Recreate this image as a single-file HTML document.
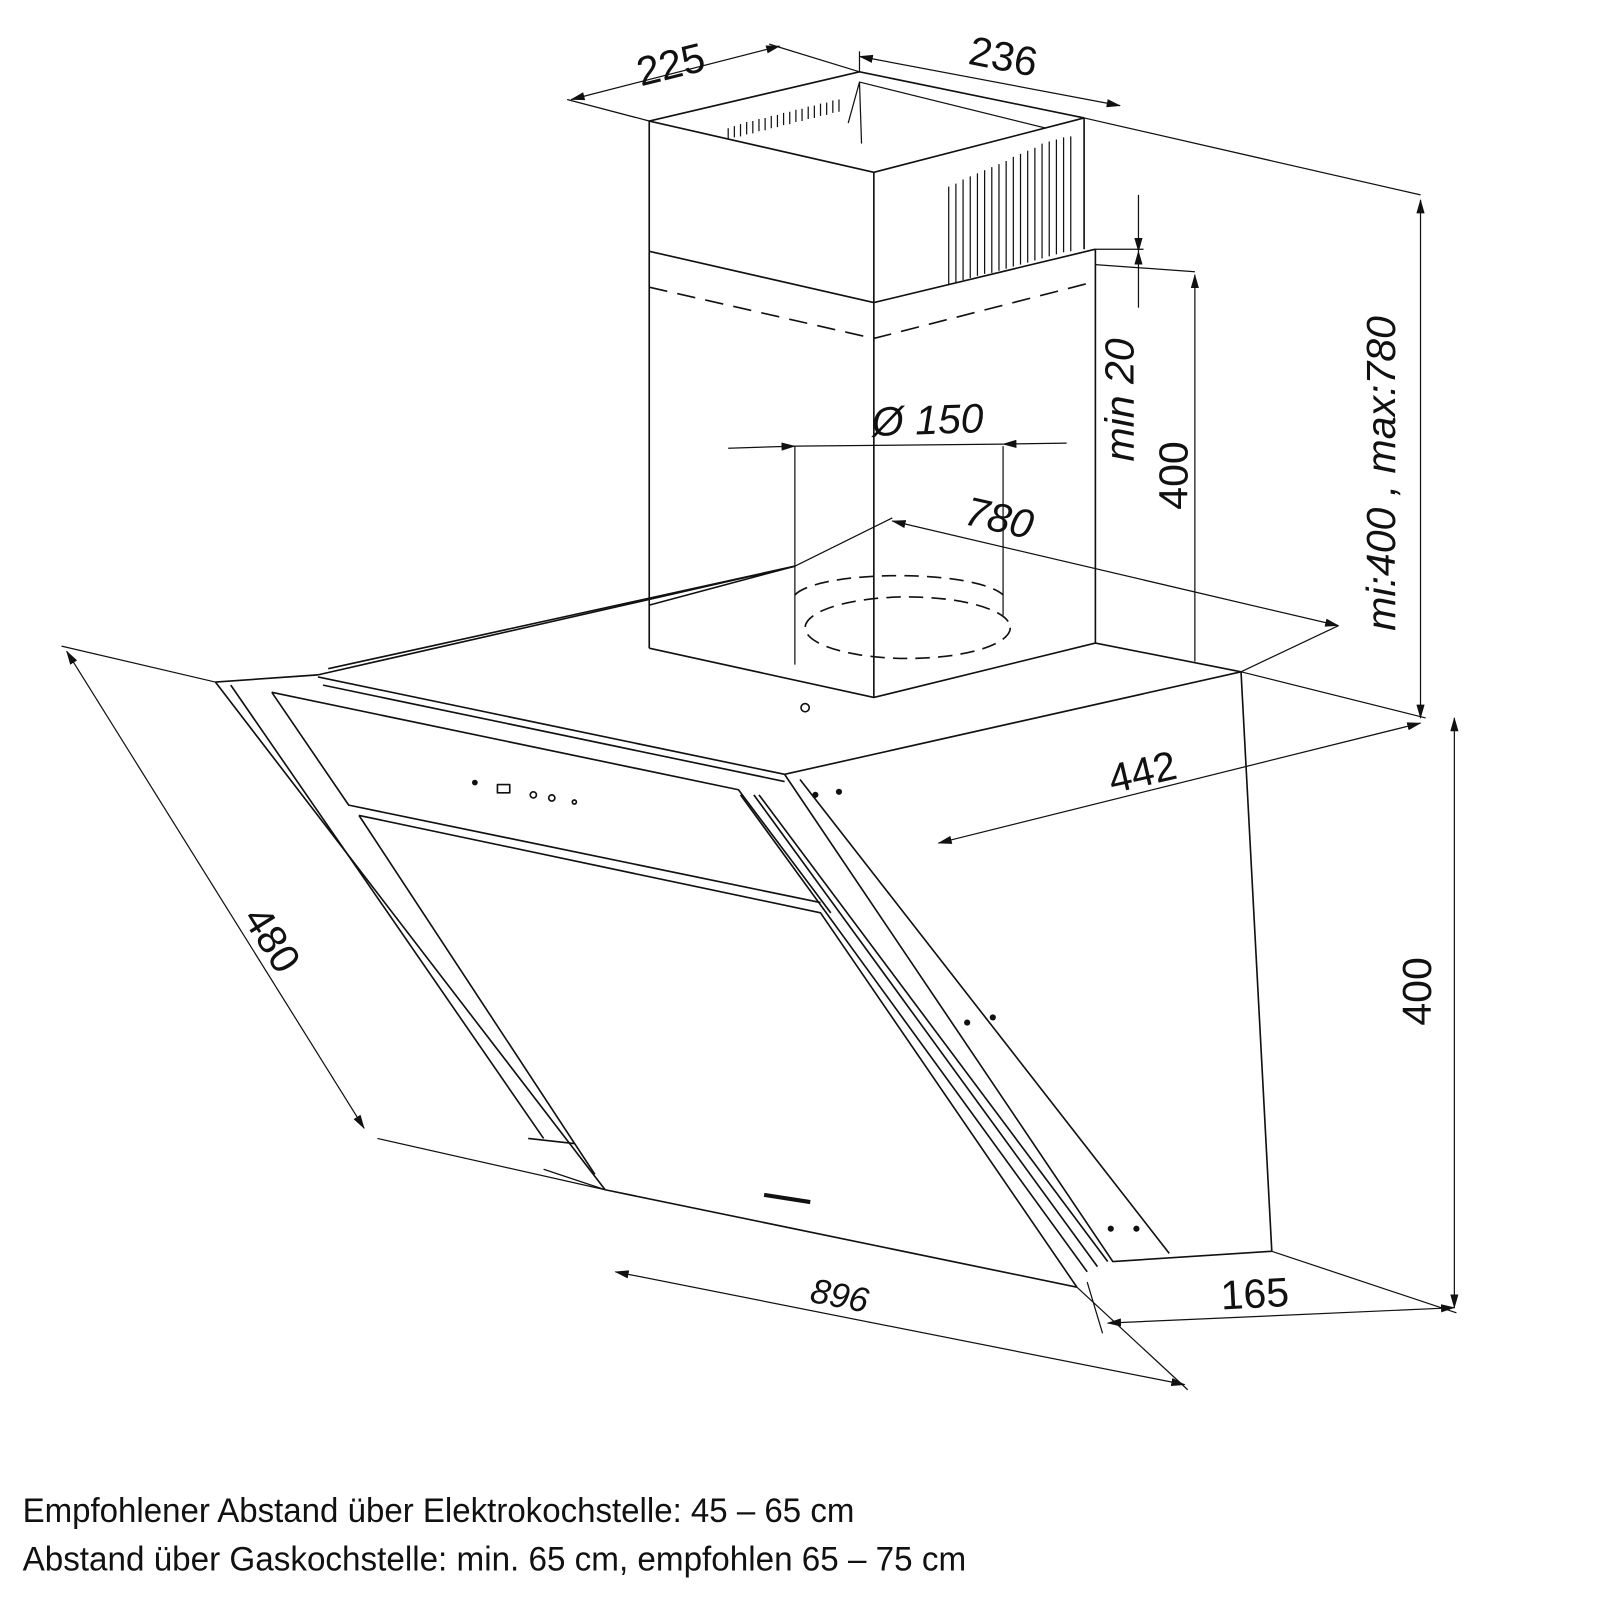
<!DOCTYPE html>
<html><head><meta charset="utf-8"><style>
html,body{margin:0;padding:0;background:#fff;}
svg{display:block;}
text{font-family:"Liberation Sans",sans-serif;fill:#111;}
</style></head><body>
<svg width="1600" height="1600" viewBox="0 0 1560 1560" xmlns="http://www.w3.org/2000/svg">
<defs>
<marker id="a" markerWidth="14" markerHeight="8" refX="13" refY="4" orient="auto" markerUnits="userSpaceOnUse"><path d="M0,0 L14,4 L0,8 z" fill="#111"/></marker>
<marker id="b" markerWidth="14" markerHeight="8" refX="1" refY="4" orient="auto" markerUnits="userSpaceOnUse"><path d="M14,0 L0,4 L14,8 z" fill="#111"/></marker>
</defs>
<g stroke="#111" stroke-width="1.6" fill="none" stroke-linejoin="round">
<polyline points="633,245 633,118 852,168 1057,115"/>
<polyline points="633,118 838,70 1057,115"/>
<line x1="852" y1="168" x2="852" y2="680"/>
<line x1="1057" y1="115" x2="1057" y2="243"/>
<polyline points="633,245 852,295 1068,243"/>
<line x1="633" y1="245" x2="633" y2="632"/>
<line x1="1068" y1="243" x2="1068" y2="627"/>
<polyline points="633,280 852,330 1062,276" stroke-dasharray="18,10"/>
<g stroke-width="1.2">
<path d="M710,135v-10M716,134v-11M722,133v-12M728,131v-12M734,130v-12M740,128v-12M746,127v-12M752,125v-12M758,124v-12M764,122v-12M770,121v-12M776,119v-12M782,118v-12M788,116v-12M794,115v-12M800,113v-12M806,112v-12M812,110v-12M818,109v-12"/>
<path d="M925,277v-95M932,275v-96M939,273v-98M946,271v-99M953,269v-100M960,267v-101M967,266v-103M974,264v-104M981,262v-105M988,260v-107M995,258v-108M1002,256v-109M1009,254v-110M1016,252v-112M1023,250v-112M1030,248v-112M1037,246v-112M1044,245v-112"/>
<path d="M827,120 L838,80 L840,140 M838,80 L1020,125"/>
</g>
<line x1="775" y1="435" x2="775" y2="648" stroke-width="1.2"/>
<line x1="978" y1="435" x2="978" y2="600" stroke-width="1.2"/>
<ellipse cx="885" cy="612" rx="100" ry="30" stroke-dasharray="14,8"/>
<path d="M775,580 C800,555 950,555 978,580" stroke-dasharray="14,8"/>
<polyline points="310,658 775,552 633,590"/>
<line x1="320" y1="652" x2="775" y2="552"/>
<polyline points="633,632 852,680 1068,627 1210,655"/>
<polyline points="310,660 765,755 1210,655"/>
<line x1="315" y1="668" x2="765" y2="762"/>
<circle cx="785" cy="690" r="4"/>
<line x1="1210" y1="655" x2="1240" y2="1220"/>
<polyline points="765,755 1085,1230 1240,1220"/>
<polyline points="780,760 1140,1222"/>
<line x1="740" y1="775" x2="1080" y2="1230"/>
<polyline points="210,665 310,658"/>
<polyline points="210,665 590,1160 1050,1255"/>
<line x1="225" y1="668" x2="530" y2="1110"/>
<line x1="515" y1="1110" x2="560" y2="1115"/>
<polyline points="265,675 720,770 810,890"/>
<polyline points="265,675 340,785 800,880"/>
<polyline points="350,795 800,890 1050,1255"/>
<line x1="350" y1="795" x2="580" y2="1145"/>
<line x1="722" y1="775" x2="1060" y2="1240"/>
<line x1="735" y1="775" x2="1070" y2="1235"/>
<path d="M745,1165 L790,1172" stroke-width="4"/>
<circle cx="463" cy="763" r="2" fill="#111"/><rect x="485" y="765" width="12" height="8"/><circle cx="520" cy="775" r="3"/><circle cx="538" cy="778" r="3"/><circle cx="560" cy="782" r="2"/>
<g fill="#111" stroke="none"><circle cx="795" cy="775" r="3"/><circle cx="818" cy="772" r="3"/><circle cx="943" cy="997" r="3"/><circle cx="968" cy="992" r="3"/><circle cx="1083" cy="1198" r="3"/><circle cx="1108" cy="1198" r="3"/></g>
<g stroke-width="1.2">
<line x1="557" y1="97" x2="760" y2="45" marker-start="url(#b)" marker-end="url(#a)"/>
<line x1="633" y1="118" x2="553" y2="97"/><line x1="838" y1="70" x2="750" y2="43"/>
<line x1="838" y1="55" x2="1092" y2="103" marker-start="url(#b)" marker-end="url(#a)"/>
<line x1="838" y1="70" x2="838" y2="50"/>
<line x1="1057" y1="115" x2="1385" y2="190"/>
<line x1="1385" y1="195" x2="1385" y2="700" marker-start="url(#b)" marker-end="url(#a)"/>
<line x1="1210" y1="655" x2="1390" y2="700"/>
<line x1="1418" y1="700" x2="1418" y2="1275" marker-start="url(#b)" marker-end="url(#a)"/>
<line x1="1240" y1="1220" x2="1420" y2="1280"/>
<line x1="915" y1="822" x2="1385" y2="705" marker-start="url(#b)" marker-end="url(#a)"/>
<line x1="1080" y1="1290" x2="1418" y2="1275" marker-start="url(#b)" marker-end="url(#a)"/>
<line x1="1060" y1="1250" x2="1075" y2="1300"/>
<line x1="600" y1="1240" x2="1155" y2="1350" marker-start="url(#b)" marker-end="url(#a)"/>
<line x1="1050" y1="1255" x2="1158" y2="1355"/>
<line x1="590" y1="1160" x2="530" y2="1140"/>
<line x1="65" y1="635" x2="355" y2="1100" marker-start="url(#b)" marker-end="url(#a)"/>
<line x1="60" y1="630" x2="210" y2="665"/><line x1="368" y1="1110" x2="590" y2="1160"/>
<line x1="870" y1="508" x2="1305" y2="610" marker-start="url(#b)" marker-end="url(#a)"/>
<line x1="775" y1="552" x2="870" y2="505"/><line x1="1210" y1="655" x2="1305" y2="610"/>
<line x1="1110" y1="190" x2="1110" y2="245" marker-end="url(#a)"/>
<line x1="1110" y1="300" x2="1110" y2="245" marker-end="url(#a)"/>
<line x1="1068" y1="243" x2="1115" y2="243"/>
<line x1="1068" y1="258" x2="1165" y2="265"/>
<line x1="1165" y1="645" x2="1165" y2="268" marker-end="url(#a)"/>
<line x1="710" y1="437" x2="775" y2="435" marker-end="url(#a)"/>
<line x1="775" y1="435" x2="978" y2="433"/>
<line x1="1040" y1="432" x2="978" y2="433" marker-end="url(#a)"/>
</g>
</g>
<g font-size="40">
<text x="620" y="75" transform="rotate(-14 660 60)">225</text>
<text x="945" y="70" transform="rotate(11 985 55)">236</text>
<text x="850" y="423" transform="rotate(-2 910 410)" font-style="italic">Ø 150</text>
<text x="940" y="520" transform="rotate(13 980 510)" font-style="italic">780</text>
<text x="0" y="0" transform="translate(1105,450) rotate(-90)" font-style="italic">min 20</text>
<text x="0" y="0" transform="translate(1158,497) rotate(-90)">400</text>
<text x="0" y="0" transform="translate(1360,615) rotate(-90)" font-style="italic">mi:400 , max:780</text>
<text x="1080" y="765" transform="rotate(-13 1120 750)">442</text>
<text x="0" y="0" transform="translate(1395,1000) rotate(-90)">400</text>
<text x="1190" y="1275" transform="rotate(-3 1225 1260)">165</text>
<text x="790" y="1275" font-size="34" transform="rotate(11 820 1265)" font-style="italic">896</text>
<text x="0" y="0" transform="translate(236,895) rotate(58)">480</text>
</g>
<g font-size="33">
<text x="22" y="1484" textLength="811" lengthAdjust="spacingAndGlyphs">Empfohlener Abstand über Elektrokochstelle: 45 – 65 cm</text>
<text x="22" y="1531" textLength="920" lengthAdjust="spacingAndGlyphs">Abstand über Gaskochstelle: min. 65 cm, empfohlen 65 – 75 cm</text>
</g>
</svg>
</body></html>
